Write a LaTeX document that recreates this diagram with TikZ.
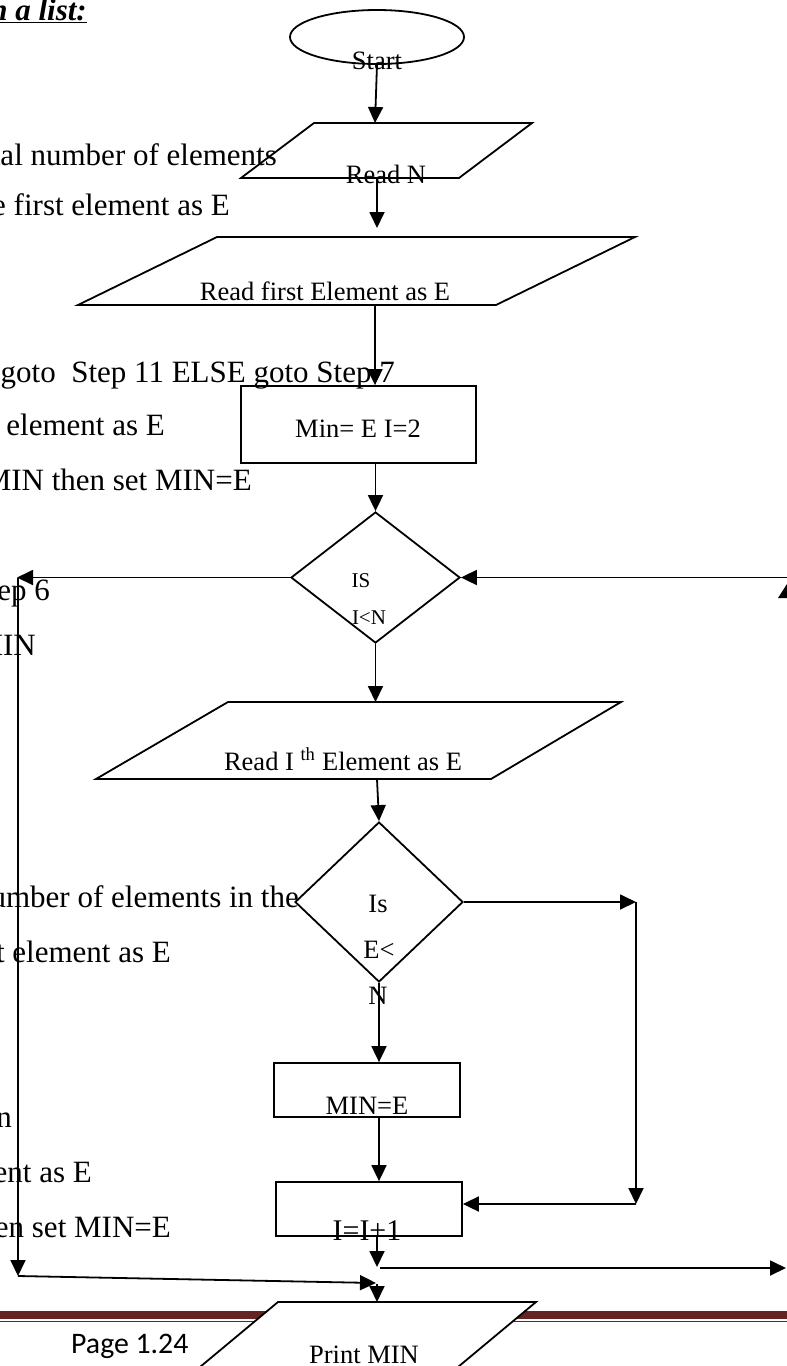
\documentclass[tikz,border=0pt]{standalone}
\usepackage{fontspec}
\setmainfont{Liberation Serif}
\newfontfamily\calib{Carlito}
\usetikzlibrary{arrows.meta,shapes.geometric}
\definecolor{footred}{HTML}{632423}
\begin{document}
\begin{tikzpicture}[x=1pt,y=-1pt,
  ln/.style={line width=1.8pt},
  arr/.style={line width=1.8pt,-{Triangle[length=16pt,width=15pt]}},
  bg/.style={font=\fontsize{31}{36}\selectfont, inner sep=0pt, anchor=base east},
  ft/.style={font=\fontsize{26.5}{30}\selectfont, inner sep=0pt, anchor=base},
  fts/.style={font=\fontsize{21}{24}\selectfont, inner sep=0pt, anchor=base},
  shp/.style={draw, line width=1.8pt, inner sep=0pt}
  ]
\useasboundingbox (0,0) rectangle (787,1366);
\clip (0,0) rectangle (787,1366);

% background page text
\node[bg] (bg0) at (87,20) {\bfseries\itshape\underline{in a list:}};
\node[bg] (bg1) at (277,165) {total number of elements};
\node[bg] (bg2) at (230,215) {the first element as E};
\node[bg] (bg3) at (395,382) {goto\ \ Step 11 ELSE goto Step 7};
\node[bg] (bg4) at (165,435) {next element as E};
\node[bg] (bg5) at (252,490) {MIN then set MIN=E};
\node[bg] (bg6) at (50,600) {Step 6};
\node[bg] (bg7) at (36,655) {MIN};
\node[bg] (bg8) at (299,907) {number of elements in the};
\node[bg] (bg9) at (171,962) {next element as E};
\node[bg] (bg10) at (12,1127) {n};
\node[bg] (bg11) at (92,1182) {element as E};
\node[bg] (bg12) at (171,1237) {then set MIN=E};

% footer
\fill[footred] (0,1310.5) rectangle (787,1318.5);
\fill[footred] (0,1320.8) rectangle (787,1322.4);
\node[font=\calib\fontsize{29.8}{34}\selectfont, inner sep=0pt, anchor=base west] (page) at (71,1353) {Page 1.24};

% shapes
\node[shp, ellipse, minimum width=174pt, minimum height=54pt] (start) at (377,37) {};

\coordinate (rnTL) at (314,123); \coordinate (rnTR) at (532,123);
\coordinate (rnBR) at (459,178); \coordinate (rnBL) at (241,178);
\draw[ln] (rnTL) -- (rnTR) -- (rnBR) -- (rnBL) -- cycle;
\coordinate (rnT) at (375,123); \coordinate (rnB) at (377,178);
\coordinate (gap1) at (377,228);

\coordinate (rfTL) at (217,237); \coordinate (rfTR) at (635,237);
\coordinate (rfBR) at (496,305); \coordinate (rfBL) at (78,305);
\draw[ln] (rfTL) -- (rfTR) -- (rfBR) -- (rfBL) -- cycle;
\coordinate (rfB) at (375,305);

\node[shp, minimum width=235pt, minimum height=77pt] (init) at (358.5,424.5) {};

\node[shp, diamond, minimum width=169pt, minimum height=131pt] (d1) at (375.5,577.5) {};

\coordinate (riTL) at (228,702); \coordinate (riTR) at (621,702);
\coordinate (riBR) at (491,779); \coordinate (riBL) at (96,779);
\draw[ln] (riTL) -- (riTR) -- (riBR) -- (riBL) -- cycle;
\coordinate (riT) at (375.5,702); \coordinate (riB) at (377,779);

\node[shp, diamond, minimum width=168pt, minimum height=160pt] (d2) at (379,902) {};

\node[shp, minimum width=186pt, minimum height=54pt] (mine) at (367,1090) {};
\node[shp, minimum width=186pt, minimum height=54pt] (inc) at (369,1209) {};

\coordinate (pmTL) at (278,1302); \coordinate (pmTR) at (536,1302);
\coordinate (pmBR) at (440,1382); \coordinate (pmBL) at (182,1382);
\filldraw[ln, fill=white] (pmTL) -- (pmTR) -- (pmBR) -- (pmBL) -- cycle;
\coordinate (pmT) at (377,1302);

% texts
\node[ft] (tStart) at (377,69) {Start};
\node[ft] (tReadN) at (386,183) {Read N};
\node[ft] (tReadF) at (325,300) {Read first Element as E};
\node[ft] (tInit) at (358,437) {Min= E I=2};
\node[fts] (tIS) at (361,587) {IS};
\node[fts] (tIN) at (369,624) {I<N};
\node[ft] (tReadI) at (343,770) {Read I \textsuperscript{th} Element as E};
\node[ft] (tIs) at (378,912) {Is};
\node[ft] (tE) at (379,958) {E<};
\node[ft] (tN) at (378,1004) {N};
\node[ft] (tMin) at (367,1114) {MIN=E};
\node[ft, font=\fontsize{30}{34}\selectfont] (tInc) at (367,1240) {I=I+1};
\node[ft] (tPrint) at (364,1363) {Print MIN};

% connectors
\draw[arr] (start.south) -- (rnT);
\draw[arr] (rnB) -- (gap1);
\draw[arr] (rfB) -- (rfB |- init.north);
\draw[arr] (d1.north |- init.south) -- (d1.north);
\coordinate (lc) at (17,577.5);
\coordinate (rc) at (800,577.5);
\draw[arr] (d1.west) -- (lc);
\draw[arr] (rc) -- (d1.east);
\fill (787,584) -- (778,598) -- (792,598) -- cycle;
\coordinate (lt) at (18,578);
\coordinate (lb) at (18,1276);
\draw[arr] (lt) -- (lb);
\coordinate (lm) at (376,1283);
\draw[arr] (lb) -- (lm);
\coordinate (pin) at (377,1284);
\draw[arr] (pin) -- (pmT);
\draw[arr] (d1.south) -- (riT);
\draw[arr] (riB) -- (d2.north);
\coordinate (r1) at (636,902);
\coordinate (r2) at (636,1204);
\draw[arr] (d2.east) -- (r1);
\draw[arr] (r1) -- (r2);
\draw[arr] (r2) -- (r2 -| inc.east);
\draw[arr] (d2.south) -- (d2.south |- mine.north);
\draw[arr] (d2.south |- mine.south) -- (d2.south |- inc.north);
\coordinate (e1) at (377,1267);
\draw[arr] (inc.south -| e1) -- (e1);
\coordinate (e2) at (380,1268);
\coordinate (e3) at (786,1268);
\draw[arr] (e2) -- (e3);
\end{tikzpicture}
\end{document}
